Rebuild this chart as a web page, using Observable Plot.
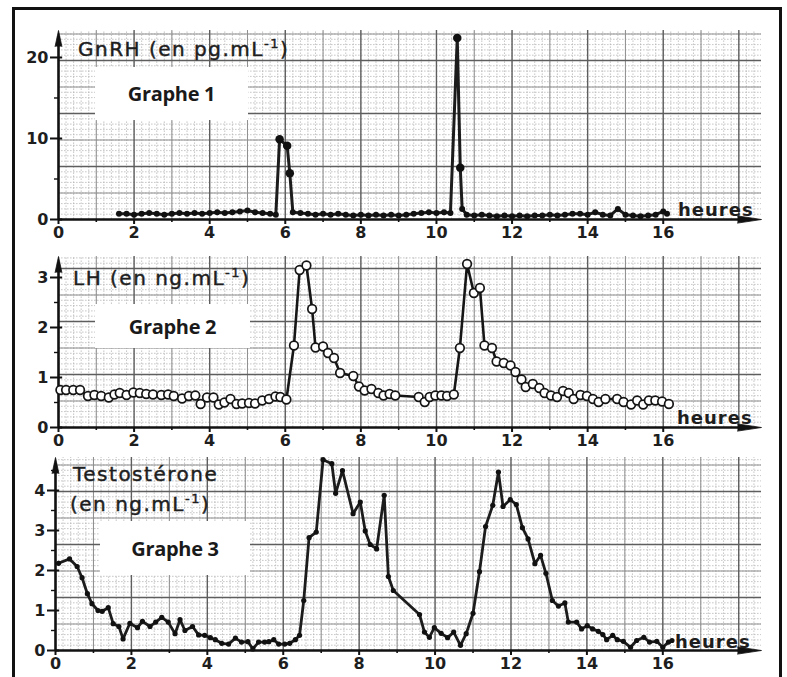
<!DOCTYPE html>
<html>
<head>
<meta charset="utf-8">
<script src="https://cdn.jsdelivr.net/npm/d3@7"></script>
<script src="https://cdn.jsdelivr.net/npm/@observablehq/plot@0.6"></script>
<style>
  body { margin: 0; background: #fff; }
  #wrap { position: relative; width: 787px; height: 677px; overflow: hidden; background: #fff; }
  .panel { position: absolute; left: 0; }
  .frame { position: absolute; left: 12px; top: 7px; width: 764px; height: 720px; border: 3px solid #111; }
  .box { position: absolute; background: #fff; display: flex; align-items: center; justify-content: center;
         font-family: "Open Sans", sans-serif; font-weight: 700; font-size: 20px; color: #1a1a1a; letter-spacing: -0.3px; }
  .ttl { position: absolute; font-family: "DejaVu Sans", sans-serif; font-size: 20px; color: #1e1e1e;
         letter-spacing: 1.5px; -webkit-text-stroke: 0.45px #1e1e1e; white-space: nowrap; line-height: 1; }
  .ttl sup { font-size: 13px; vertical-align: 8px; line-height: 0; }
  .hr { position: absolute; font-family: "DejaVu Sans", sans-serif; font-weight: bold; font-size: 18px;
        color: #1e1e1e; letter-spacing: 1px; line-height: 1; }
</style>
</head>
<body>
<div id="wrap"></div>
<script>
// ---------- data ----------
const hourTicks = [0, 2, 4, 6, 8, 10, 12, 14, 16];
const hourMinor = [1, 3, 5, 7, 9, 11, 13, 15];

const gnrhTime = [1.6,1.8,2.0,2.2,2.4,2.6,2.8,3.0,3.2,3.4,3.6,3.8,4.0,4.2,4.4,4.6,4.8,5.0,5.2,5.4,
  5.6,5.75,5.85,6.05,6.12,6.2,6.4,6.6,6.8,7.0,7.2,7.4,7.6,7.8,8.0,8.2,8.4,8.6,8.8,9.0,
  9.2,9.4,9.6,9.8,10.0,10.2,10.37,10.55,10.63,10.68,10.8,11.0,11.2,11.4,11.6,11.8,12.0,12.2,12.4,12.6,
  12.8,13.0,13.2,13.4,13.6,13.8,14.0,14.2,14.4,14.6,14.8,15.0,15.2,15.4,15.6,15.8,16.0,16.1];
const gnrhValue = [0.7,0.7,0.6,0.7,0.8,0.7,0.6,0.7,0.8,0.7,0.8,0.7,0.8,0.9,0.8,0.9,1.0,1.1,0.9,0.8,
  0.7,0.6,9.9,9.1,5.7,0.9,0.8,0.7,0.6,0.7,0.6,0.7,0.6,0.5,0.6,0.5,0.6,0.5,0.6,0.5,
  0.6,0.7,0.8,0.9,0.8,0.9,0.8,22.4,6.4,1.3,0.6,0.5,0.6,0.5,0.4,0.5,0.4,0.5,0.4,0.5,
  0.5,0.6,0.5,0.6,0.7,0.7,0.6,0.9,0.6,0.5,1.3,0.6,0.5,0.4,0.5,0.6,1.0,0.7];
const gnrhTicks = [0, 10, 20];
const gnrhMinor = [5, 15];

const lhTime = [0.05,0.2,0.39,0.57,0.78,0.95,1.13,1.33,1.48,1.62,1.8,1.98,2.15,2.32,2.5,2.72,2.9,3.05,3.27,3.45,
  3.62,3.76,3.93,4.1,4.24,4.39,4.55,4.71,4.86,5.04,5.2,5.39,5.57,5.74,5.87,6.03,6.23,6.38,6.56,6.71,
  6.8,7.0,7.13,7.29,7.45,7.8,7.95,8.1,8.28,8.46,8.6,8.76,8.91,9.53,9.69,9.82,9.97,10.13,10.28,10.46,
  10.62,10.81,10.99,11.15,11.27,11.47,11.59,11.78,11.96,12.09,12.25,12.36,12.55,12.72,12.86,13.03,13.19,13.35,13.5,13.63,
  13.81,13.98,14.14,14.29,14.47,14.78,14.95,15.15,15.31,15.47,15.62,15.79,15.97,16.15];
const lhValue = [0.75,0.75,0.75,0.75,0.63,0.65,0.63,0.6,0.66,0.69,0.65,0.7,0.69,0.67,0.66,0.65,0.66,0.63,0.58,0.63,
  0.64,0.47,0.6,0.6,0.46,0.5,0.57,0.47,0.48,0.49,0.48,0.54,0.57,0.62,0.61,0.56,1.64,3.15,3.24,2.37,
  1.6,1.62,1.49,1.39,1.09,1.03,0.82,0.74,0.77,0.69,0.64,0.67,0.64,0.61,0.51,0.61,0.64,0.64,0.63,0.66,
  1.59,3.27,2.69,2.79,1.64,1.59,1.32,1.29,1.24,1.11,0.96,0.81,0.87,0.79,0.69,0.64,0.61,0.73,0.69,0.57,
  0.65,0.63,0.57,0.51,0.57,0.57,0.51,0.46,0.54,0.46,0.54,0.54,0.52,0.47];
const lhTicks = [0, 1, 2, 3];
const lhMinor = [0.5, 1.5, 2.5];

const testoTime = [0.08,0.37,0.57,0.7,0.84,0.96,1.12,1.23,1.39,1.52,1.67,1.78,1.96,2.16,2.29,2.49,2.64,2.8,2.97,3.15,
  3.28,3.41,3.61,3.77,3.93,4.08,4.21,4.38,4.56,4.74,4.9,5.07,5.2,5.35,5.51,5.62,5.75,5.88,6.04,6.17,
  6.32,6.43,6.54,6.68,6.87,7.05,7.28,7.38,7.56,7.84,8.03,8.16,8.29,8.46,8.66,8.77,8.9,9.59,9.72,9.85,
  9.98,10.16,10.33,10.49,10.67,10.82,11.0,11.17,11.33,11.52,11.67,11.79,11.98,12.14,12.3,12.45,12.63,12.78,12.92,13.09,
  13.25,13.42,13.51,13.73,13.86,14.01,14.15,14.3,14.42,14.52,14.68,14.8,14.96,15.15,15.31,15.5,15.65,15.84,16.0,16.15,16.24];
const testoValue = [2.18,2.29,2.1,1.82,1.42,1.17,1.0,0.98,1.07,0.67,0.6,0.29,0.68,0.57,0.73,0.6,0.71,0.83,0.71,0.42,
  0.77,0.5,0.6,0.39,0.38,0.32,0.27,0.18,0.16,0.31,0.21,0.22,0.04,0.21,0.21,0.22,0.27,0.16,0.16,0.18,
  0.27,0.38,1.25,2.82,2.96,4.77,4.67,3.93,4.5,3.42,3.71,2.99,2.65,2.54,3.88,1.85,1.5,0.9,0.46,0.33,
  0.57,0.43,0.32,0.46,0.13,0.42,0.93,1.97,3.1,3.63,4.46,3.6,3.77,3.65,3.07,2.79,2.17,2.38,1.93,1.25,
  1.11,1.19,0.71,0.71,0.54,0.62,0.54,0.48,0.4,0.27,0.38,0.27,0.23,0.08,0.25,0.33,0.21,0.23,0.08,0.21,0.25];
const testoTicks = [0, 1, 2, 3, 4];
const testoMinor = [0.5, 1.5, 2.5, 3.5, 4.5];

// ---------- layout ----------
const X_MAX = 18.6;
const wrap = document.getElementById("wrap");

function panel(cfg) {
  const {time, value, top, height, mt, mb, ml, mr, yMax, ticks, minor, kind} = cfg;
  const pxPerUnit = (height - mt - mb) / yMax;
  const rows = time.map((t, i) => ({t, v: value[i]}));
  const step = 53 / pxPerUnit;              // graph-paper major spacing (53 px)
  const hMajor = d3.range(1, 10).map(k => k * step).filter(v => v <= yMax + 1e-6);
  const hMed = d3.range(0, 10).map(k => (k + 0.5) * step).filter(v => v <= yMax);
  const hMinor = d3.range(1, 100).map(k => k * step / 10).filter(v => v <= yMax);
  const vMajor = [2, 4, 6, 8, 10, 12, 14, 16, 18];
  const vMed = [1, 3, 5, 7, 9, 11, 13, 15, 17];
  const vMinor = d3.range(1, 93).map(k => k * 0.2).filter(v => v < X_MAX);

  const dataMarks = [];
  if (kind === "gnrh") {
    dataMarks.push(Plot.line(rows, {x: "t", y: "v", stroke: "#1c1c1c", strokeWidth: 3, strokeLinejoin: "round"}));
    dataMarks.push(Plot.dot(rows, {x: "t", y: "v", r: d => d.v > 3 ? 3.2 : 1.6, fill: "#111", stroke: "none"}));
  } else if (kind === "lh") {
    dataMarks.push(Plot.line(rows, {x: "t", y: "v", stroke: "#161616", strokeWidth: 2.6, strokeLinejoin: "round"}));
    dataMarks.push(Plot.dot(rows, {x: "t", y: "v", r: 4.3, fill: "#fff", stroke: "#151515", strokeWidth: 1.7}));
  } else {
    dataMarks.push(Plot.line(rows, {x: "t", y: "v", stroke: "#1c1c1c", strokeWidth: 2.8, strokeLinejoin: "round"}));
    dataMarks.push(Plot.dot(rows, {x: "t", y: "v", r: 2.6, fill: "#111", stroke: "none"}));
  }

  const chart = Plot.plot({
    width: 787, height, marginTop: mt, marginBottom: mb, marginLeft: ml, marginRight: mr,
    x: {domain: [0, X_MAX], axis: null, label: null},
    y: {domain: [0, yMax], axis: null, label: null},
    style: {background: "transparent", overflow: "visible"},
    marks: [
      // graph paper
      Plot.ruleX(vMinor, {y1: 0, y2: yMax, stroke: "#b0b0b0", strokeWidth: 0.7, strokeDasharray: "1.6,1.4"}),
      Plot.ruleY(hMinor, {x1: 0, x2: X_MAX, stroke: "#b0b0b0", strokeWidth: 0.7, strokeDasharray: "1.6,1.4"}),
      Plot.ruleX(vMed, {y1: 0, y2: yMax, stroke: "#8e8e8e", strokeWidth: 1}),
      Plot.ruleY(hMed, {x1: 0, x2: X_MAX, stroke: "#8e8e8e", strokeWidth: 1}),
      Plot.ruleX(vMajor, {y1: 0, y2: yMax, stroke: "#5e5e5e", strokeWidth: 1.4}),
      Plot.ruleY(hMajor, {x1: 0, x2: X_MAX, stroke: "#5e5e5e", strokeWidth: 1.4}),
      // axes
      Plot.axisX({ticks: hourTicks, label: null, tickSize: 5, tickPadding: 2, fontSize: 16, fontWeight: "bold",
        fontFamily: "DejaVu Sans", fill: "#1e1e1e", stroke: "#111", strokeWidth: 2, tickFormat: d => d}),
      Plot.axisX({ticks: hourMinor, label: null, tickSize: 3, text: null, stroke: "#111", strokeWidth: 1.6}),
      Plot.axisY({ticks, label: null, tickSize: 8, tickPadding: 2, fontSize: 16, fontWeight: "bold",
        fontFamily: "DejaVu Sans", fill: "#1e1e1e", stroke: "#111", strokeWidth: 2, tickFormat: d => d}),
      Plot.axisY({ticks: minor, label: null, tickSize: 4, text: null, stroke: "#111", strokeWidth: 1.4}),
      Plot.ruleY(ticks, {x1: 0, x2: 0.11, stroke: "#111", strokeWidth: 2}),
      Plot.ruleY([0], {x1: 0, x2: X_MAX - 0.3, stroke: "#111", strokeWidth: 2.6}),
      Plot.ruleX([0], {y1: 0, y2: yMax - 6 / pxPerUnit, stroke: "#111", strokeWidth: 2.6}),
      Plot.vector([0], {x: X_MAX, y: 0, rotate: 90, length: 24, r: 3.6, shape: "spike", anchor: "end", fill: "#111", stroke: "#111", strokeWidth: 0.8}),
      Plot.vector([0], {x: 0, y: yMax, rotate: 0, length: 16, r: 3.4, shape: "spike", anchor: "end", fill: "#111", stroke: "#111", strokeWidth: 0.8}),
      ...dataMarks
    ]
  });
  const div = document.createElement("div");
  div.className = "panel";
  div.style.top = top + "px";
  div.appendChild(chart);
  wrap.appendChild(div);
}

panel({time: gnrhTime, value: gnrhValue, top: 0, height: 240, mt: 30, mb: 21, ml: 58, mr: 26,
  yMax: 23.33, ticks: gnrhTicks, minor: gnrhMinor, kind: "gnrh"});
panel({time: lhTime, value: lhValue, top: 240, height: 210, mt: 16, mb: 23, ml: 58, mr: 26,
  yMax: 3.42, ticks: lhTicks, minor: lhMinor, kind: "lh"});
panel({time: testoTime, value: testoValue, top: 450, height: 227, mt: 7, mb: 27, ml: 55, mr: 26,
  yMax: 4.825, ticks: testoTicks, minor: testoMinor, kind: "testo"});

// ---------- overlays ----------
function add(cls, html, css) {
  const d = document.createElement("div");
  d.className = cls; d.innerHTML = html;
  Object.assign(d.style, css);
  wrap.appendChild(d);
}
add("frame", "", {});
add("box", "Graphe 1", {left: "95px", top: "67px", width: "153px", height: "53px"});
add("box", "Graphe 2", {left: "95px", top: "304px", width: "155px", height: "44px"});
add("box", "Graphe 3", {left: "100px", top: "521px", width: "150px", height: "54px"});
add("ttl", "GnRH (en pg.mL<sup>-1</sup>)", {left: "78px", top: "39px"});
add("ttl", "LH (en ng.mL<sup>-1</sup>)", {left: "73px", top: "268px"});
add("ttl", "Testostérone", {left: "73px", top: "464px"});
add("ttl", "(en ng.mL<sup>-1</sup>)", {left: "70px", top: "494px"});
add("hr", "heures", {left: "678px", top: "201px"});
add("hr", "heures", {left: "677px", top: "409px"});
add("hr", "heures", {left: "675px", top: "633px"});
</script>
</body>
</html>
